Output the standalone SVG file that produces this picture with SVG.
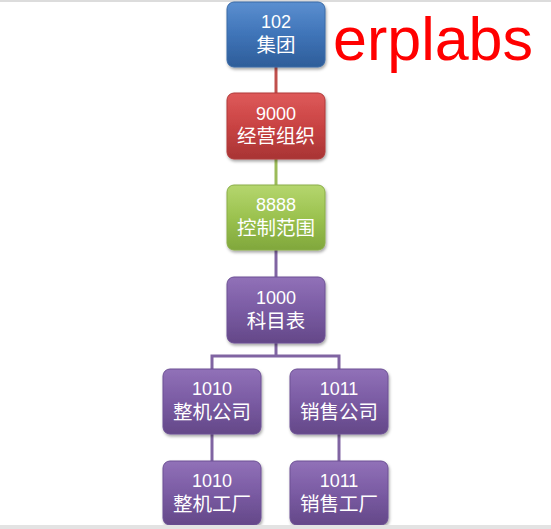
<svg xmlns="http://www.w3.org/2000/svg" width="551" height="529" viewBox="0 0 551 529">
<style>
.t{font-family:"Liberation Sans","Noto Sans CJK SC",sans-serif;font-size:18px;fill:#fff;text-anchor:middle}
.z{font-size:19.5px}
.c{fill:none;stroke-width:3}
</style>
<defs>
<linearGradient id="gb" x1="0" y1="0" x2="0" y2="1"><stop offset="0" stop-color="#5b8fd0"/><stop offset="0.5" stop-color="#3f74b8"/><stop offset="1" stop-color="#2e5d99"/></linearGradient>
<linearGradient id="gr" x1="0" y1="0" x2="0" y2="1"><stop offset="0" stop-color="#de5a5a"/><stop offset="0.5" stop-color="#c94343"/><stop offset="1" stop-color="#a83434"/></linearGradient>
<linearGradient id="gg" x1="0" y1="0" x2="0" y2="1"><stop offset="0" stop-color="#b5d66e"/><stop offset="0.5" stop-color="#9bc24f"/><stop offset="1" stop-color="#80a73c"/></linearGradient>
<linearGradient id="gp" x1="0" y1="0" x2="0" y2="1"><stop offset="0" stop-color="#9171b8"/><stop offset="0.5" stop-color="#7a5ba3"/><stop offset="1" stop-color="#644888"/></linearGradient>
<filter id="sh" x="-10%" y="-10%" width="125%" height="130%"><feDropShadow dx="1" dy="2" stdDeviation="1.5" flood-color="#000" flood-opacity="0.35"/></filter>
</defs>
<rect x="0" y="0" width="551" height="529" fill="#fff"/>
<line x1="0" y1="1" x2="551" y2="1" stroke="#dcdcdc" stroke-width="2"/>
<g id="connectors">
<line class="c" x1="276" y1="67" x2="276" y2="93" stroke="#c0504d"/>
<line class="c" x1="276" y1="159" x2="276" y2="185" stroke="#9bbb59"/>
<line class="c" x1="276" y1="250" x2="276" y2="277" stroke="#8064a2"/>
<polyline class="c" points="276,343 276,357" stroke="#8064a2"/>
<polyline class="c" points="212,369 212,356 339,356 339,369" stroke="#8064a2"/>
<line class="c" x1="212" y1="434" x2="212" y2="461" stroke="#8064a2"/>
<line class="c" x1="339" y1="434" x2="339" y2="461" stroke="#8064a2"/>
</g>
<g id="n102"><rect x="227" y="2" width="98" height="65" rx="7" fill="url(#gb)" stroke="#3a6aa6" filter="url(#sh)"/><text class="t" x="276" y="28">102</text><text class="t z" x="276" y="52">集团</text></g>
<g id="n9000"><rect x="227" y="93" width="98" height="66" rx="7" fill="url(#gr)" stroke="#b03a3a" filter="url(#sh)"/><text class="t" x="276" y="120">9000</text><text class="t z" x="276" y="143">经营组织</text></g>
<g id="n8888"><rect x="227" y="185" width="98" height="65" rx="7" fill="url(#gg)" stroke="#8aae48" filter="url(#sh)"/><text class="t" x="276" y="211">8888</text><text class="t z" x="276" y="235">控制范围</text></g>
<g id="n1000"><rect x="227" y="277" width="98" height="66" rx="7" fill="url(#gp)" stroke="#6c5094" filter="url(#sh)"/><text class="t" x="276" y="304">1000</text><text class="t z" x="276" y="328">科目表</text></g>
<g id="n1010a"><rect x="163" y="369" width="98" height="65" rx="7" fill="url(#gp)" stroke="#6c5094" filter="url(#sh)"/><text class="t" x="212" y="395">1010</text><text class="t z" x="212" y="419">整机公司</text></g>
<g id="n1011a"><rect x="290" y="369" width="98" height="65" rx="7" fill="url(#gp)" stroke="#6c5094" filter="url(#sh)"/><text class="t" x="339" y="395">1011</text><text class="t z" x="339" y="419">销售公司</text></g>
<g id="n1010b"><rect x="163" y="461" width="98" height="64" rx="7" fill="url(#gp)" stroke="#6c5094" filter="url(#sh)"/><text class="t" x="212" y="487">1010</text><text class="t z" x="212" y="511">整机工厂</text></g>
<g id="n1011b"><rect x="290" y="461" width="98" height="64" rx="7" fill="url(#gp)" stroke="#6c5094" filter="url(#sh)"/><text class="t" x="339" y="487">1011</text><text class="t z" x="339" y="511">销售工厂</text></g>
<rect x="0" y="525" width="551" height="4" fill="#e3e3e3"/>
<text x="333" y="60" font-family="Liberation Sans,sans-serif" font-size="61" fill="#ff0000" textLength="200" lengthAdjust="spacingAndGlyphs">erplabs</text>
</svg>
